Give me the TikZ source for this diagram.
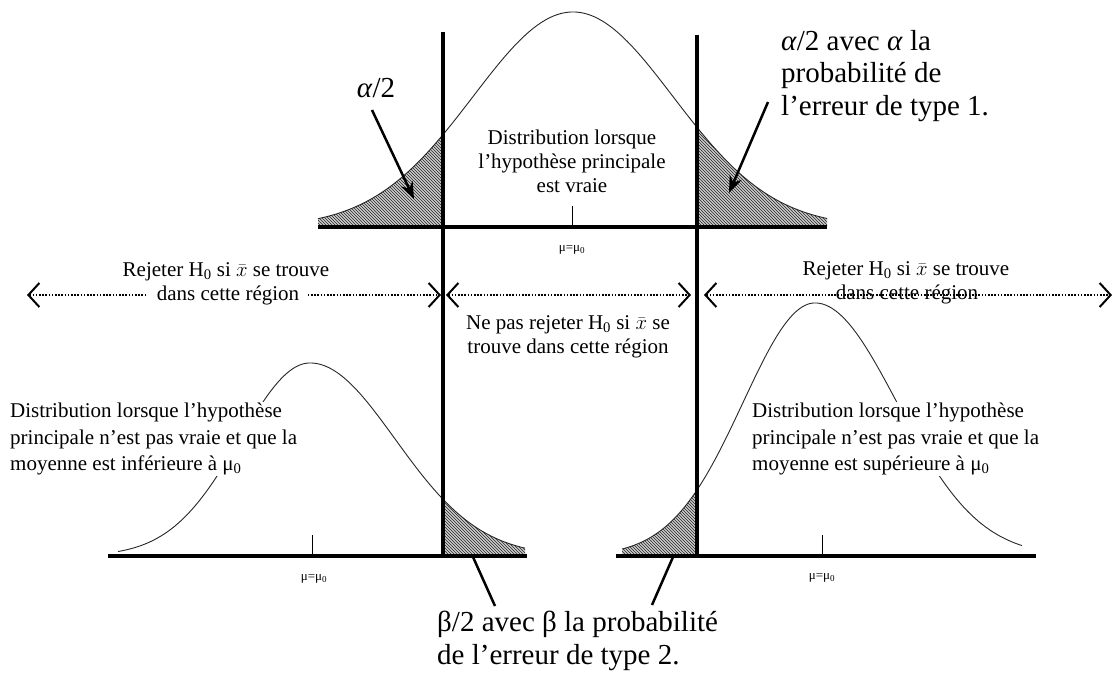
\documentclass[tikz,border=0pt]{standalone}
\usepackage{fontspec}
\setmainfont{Liberation Serif}
\usetikzlibrary{arrows.meta,patterns}
\begin{document}
\begin{tikzpicture}[x=1pt,y=-1pt,
  declare function={
    gA(\x)=227-215*exp(-0.5*((\x-573)/100)*((\x-573)/100));
    gBL(\x)=556-193*exp(-0.5*((\x-310)/70)*((\x-310)/70));
    gBR(\x)=556-193*exp(-0.5*((\x-310)/85)*((\x-310)/85));
    gCL(\x)=556-253*exp(-0.5*((\x-815)/72)*((\x-815)/72));
    gCR(\x)=556-253*exp(-0.5*((\x-815)/82)*((\x-815)/82));
  },
  axisline/.style={line width=3.5pt},
  vline/.style={line width=4pt},
  curve/.style={line width=0.9pt, black!85},
  tailfill/.style={fill=gray!40, postaction={pattern=north west lines, pattern color=black!85}},
  tick/.style={line width=1pt},
  lbl/.style={font=\fontsize{21}{24}\selectfont, align=center, inner sep=1pt},
  lbll/.style={font=\fontsize{21}{26.5}\selectfont, align=left, inner sep=1pt},
  biglbl/.style={font=\fontsize{29}{32.5}\selectfont, align=left, inner sep=0pt},
  mulbl/.style={font=\fontsize{13}{14}\selectfont, inner sep=1pt},
  ptr/.style={line width=2.5pt, -{Stealth[length=17pt,width=13pt]}},
  leader/.style={line width=2.5pt},
  barb/.tip={Straight Barb[length=11pt,width=24pt,line width=2pt]},
  region/.style={line width=1.8pt, dash pattern=on 1.6pt off 1.6pt, barb-barb},
]
\useasboundingbox (0,0) rectangle (1115,673);

% ---------- top distribution ----------
\fill[tailfill] (318,227) -- plot[domain=318:443,samples=60] (\x,{gA(\x)}) -- (443,227) -- cycle;
\fill[tailfill] (697,227) -- plot[domain=697:827,samples=60] (\x,{gA(\x)}) -- (827,227) -- cycle;
\draw[curve] plot[domain=318:827,samples=200] (\x,{gA(\x)});
\coordinate (tA1) at (318,227); \coordinate (tA2) at (827,227);
\draw[axisline] (tA1) -- (tA2);
\coordinate (mkA1) at (572,206); \coordinate (mkA2) at (572,227);
\draw[tick] (mkA1) -- (mkA2);
\node[mulbl] (muA) at (572,250) {μ=μ\textsubscript{0}};

% ---------- bottom left distribution ----------
\fill[tailfill] (443,556) -- plot[domain=443:525,samples=40] (\x,{gBR(\x)}) -- (525,556) -- cycle;
\draw[curve] plot[domain=118:310,samples=100] (\x,{gBL(\x)});
\draw[curve] plot[domain=310:525,samples=100] (\x,{gBR(\x)});
\coordinate (bL1) at (108,556); \coordinate (bL2) at (527,556);
\draw[axisline] (bL1) -- (bL2);
\coordinate (mkB1) at (312,535); \coordinate (mkB2) at (312,556);
\draw[tick] (mkB1) -- (mkB2);
\node[mulbl] (muB) at (314,579) {μ=μ\textsubscript{0}};

% ---------- bottom right distribution ----------
\fill[tailfill] (622,556) -- plot[domain=622:697,samples=40] (\x,{gCL(\x)}) -- (697,556) -- cycle;
\draw[curve] plot[domain=622:815,samples=100] (\x,{gCL(\x)});
\draw[curve] plot[domain=815:1022,samples=100] (\x,{gCR(\x)});
\coordinate (bR1) at (616,556); \coordinate (bR2) at (1036,556);
\draw[axisline] (bR1) -- (bR2);
\coordinate (mkC1) at (822,535); \coordinate (mkC2) at (822,556);
\draw[tick] (mkC1) -- (mkC2);
\node[mulbl] (muC) at (822,578) {μ=μ\textsubscript{0}};

% ---------- critical values ----------
\coordinate (vL1) at (443,32); \coordinate (vL2) at (443,558);
\coordinate (vR1) at (697,35); \coordinate (vR2) at (697,558);
\draw[vline] (vL1) -- (vL2);
\draw[vline] (vR1) -- (vR2);

% ---------- region arrows ----------
\coordinate (rA1) at (27,295); \coordinate (rA2) at (441,295);
\coordinate (rB1) at (446,295); \coordinate (rB2) at (691,295);
\coordinate (rC1) at (704,295); \coordinate (rC2) at (1112,295);
\draw[region] (rA1) -- (rA2);
\draw[region] (rB1) -- (rB2);
\draw[region] (rC1) -- (rC2);

\node[lbl] (rejLa) at (226,272) {Rejeter H\textsubscript{0} si $\bar{x}$ se trouve};
\node[lbl, fill=white, inner xsep=9pt, inner ysep=2pt] (rejLb) at (228,295) {dans cette région};
\node[lbl] (rejRa) at (906,271) {Rejeter H\textsubscript{0} si $\bar{x}$ se trouve};
\node[lbl] (rejRb) at (907,294) {dans cette région};
\node[lbl] (keep) at (568,337) {Ne pas rejeter H\textsubscript{0} si $\bar{x}$ se\\trouve dans cette région};

% ---------- distribution labels ----------
\node[lbl] (distA) at (572,161) {Distribution lorsque\\l’hypothèse principale\\est vraie};
\node[lbll, fill=white, anchor=west] (distL) at (9,439) {Distribution lorsque l’hypothèse\\principale n’est pas vraie et que la\\moyenne est inférieure à μ\textsubscript{0}};
\node[lbll, fill=white, anchor=west] (distR) at (751,439) {Distribution lorsque l’hypothèse\\principale n’est pas vraie et que la\\moyenne est supérieure à μ\textsubscript{0}};

% ---------- error labels ----------
\node[biglbl] (aL) at (376,88) {\textit{α}/2};
\node[biglbl, anchor=west] (aR) at (781,76) {\textit{α}/2 avec \textit{α} la\\probabilité de\\l’erreur de type 1.};
\node[biglbl, anchor=west] (bT) at (437,641) {β/2 avec β la probabilité\\de l’erreur de type 2.};

\coordinate (aLs) at (372,110); \coordinate (aLt) at (414,199);
\coordinate (aRs) at (768,102); \coordinate (aRt) at (729,193);
\draw[ptr] (aLs) -- (aLt);
\draw[ptr] (aRs) -- (aRt);
\coordinate (bLs) at (495,606); \coordinate (bLt) at (473,557);
\coordinate (bRs) at (652,605); \coordinate (bRt) at (673,557);
\draw[leader] (bLs) -- (bLt);
\draw[leader] (bRs) -- (bRt);
\end{tikzpicture}
\end{document}
